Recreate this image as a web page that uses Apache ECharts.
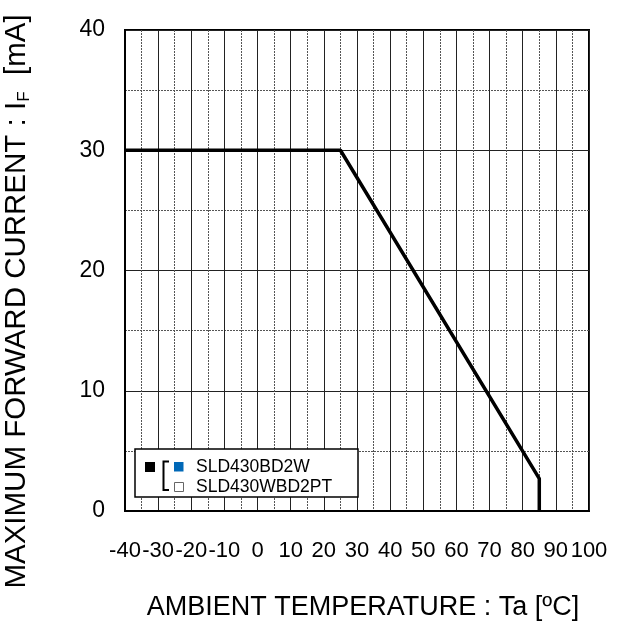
<!DOCTYPE html>
<html>
<head>
<meta charset="utf-8">
<script src="https://cdn.jsdelivr.net/npm/echarts@6/dist/echarts.min.js"></script>
<style>
html,body{margin:0;padding:0;background:#fff;}
#chart{width:621px;height:621px;}
</style>
</head>
<body>
<div id="chart"></div>
<script>
// Data
var temperatures = [-40, 25, 85, 85];
var currents = [30, 30, 2.7, 0];
var xTicks = [-40, -30, -20, -10, 0, 10, 20, 30, 40, 50, 60, 70, 80, 90, 100];
var yTicks = [0, 10, 20, 30, 40];
var legendNames = ['SLD430BD2W', 'SLD430WBD2PT'];

var FONT = '"Liberation Sans", Arial, Helvetica, sans-serif';
var chart = echarts.init(document.getElementById('chart'), null, {renderer: 'canvas'});

var seriesData = temperatures.map(function (t, i) { return [t, currents[i]]; });

var option = {
  backgroundColor: '#fff',
  animation: false,
  grid: {
    left: 125, top: 30, right: 32, bottom: 110,
    show: true, borderColor: '#000', borderWidth: 2,
    containLabel: false, outerBoundsMode: 'none'
  },
  xAxis: {
    type: 'value',
    min: xTicks[0], max: xTicks[xTicks.length - 1], interval: 10,
    name: 'AMBIENT TEMPERATURE : Ta [ºC]',
    nameLocation: 'middle', nameGap: 83,
    nameTextStyle: {fontFamily: FONT, fontSize: 27, color: '#000', padding: [0, 0, 0, 12]},
    axisLine: {show: true, onZero: false, lineStyle: {color: '#000', width: 2}},
    axisTick: {show: false},
    axisLabel: {fontFamily: FONT, fontSize: 22, color: '#000', margin: 29,
                showMinLabel: true, showMaxLabel: true, hideOverlap: false},
    splitLine: {show: true, lineStyle: {color: '#222', width: 1}},
    minorTick: {show: false, splitNumber: 2},
    minorSplitLine: {show: true, lineStyle: {color: '#555', width: 1, type: [2, 1]}}
  },
  yAxis: {
    type: 'value',
    min: yTicks[0], max: yTicks[yTicks.length - 1], interval: 10,
    name: 'MAXIMUM FORWARD CURRENT : I{sub|F}  [mA]',
    nameLocation: 'middle', nameGap: 92,
    nameTextStyle: {
      fontFamily: FONT, fontSize: 29.5, color: '#000', padding: [0, 62, 0, 0],
      rich: {sub: {fontFamily: FONT, fontSize: 17, color: '#000', verticalAlign: 'bottom', padding: [16, 0, 0, 0]}}
    },
    axisLine: {show: true, onZero: false, lineStyle: {color: '#000', width: 2}},
    axisTick: {show: false},
    axisLabel: {fontFamily: FONT, fontSize: 23, color: '#000', margin: 20,
                showMinLabel: true, showMaxLabel: true},
    splitLine: {show: true, lineStyle: {color: '#222', width: 1}},
    minorTick: {show: false, splitNumber: 2},
    minorSplitLine: {show: true, lineStyle: {color: '#555', width: 1, type: [2, 1]}}
  },
  series: [{
    type: 'line',
    data: seriesData,
    showSymbol: false,
    symbol: 'none',
    lineStyle: {color: '#000', width: 3.5},
    z: 5
  }],
  graphic: [
    {type: 'rect', shape: {x: 135, y: 449, width: 223, height: 48},
     style: {fill: '#fff', stroke: '#000', lineWidth: 1.5}, z: 10},
    {type: 'rect', shape: {x: 145, y: 462, width: 10, height: 10},
     style: {fill: '#000'}, z: 11},
    {type: 'polyline', shape: {points: [[169, 461.5], [163.5, 461.5], [163.5, 490], [169, 490]]},
     style: {stroke: '#000', lineWidth: 2, fill: null}, z: 11},
    {type: 'rect', shape: {x: 174, y: 462, width: 9.5, height: 9.5},
     style: {fill: '#0068B7'}, z: 11},
    {type: 'rect', shape: {x: 174.5, y: 482.5, width: 9, height: 9},
     style: {fill: '#fff', stroke: '#666', lineWidth: 1}, z: 11},
    {type: 'text', x: 196, y: 467,
     style: {text: legendNames[0], fontFamily: FONT, fontSize: 17.5, fill: '#000', textVerticalAlign: 'middle'}, z: 11},
    {type: 'text', x: 196, y: 487,
     style: {text: legendNames[1], fontFamily: FONT, fontSize: 17.5, fill: '#000', textVerticalAlign: 'middle'}, z: 11}
  ]
};
chart.setOption(option);
</script>
</body>
</html>
